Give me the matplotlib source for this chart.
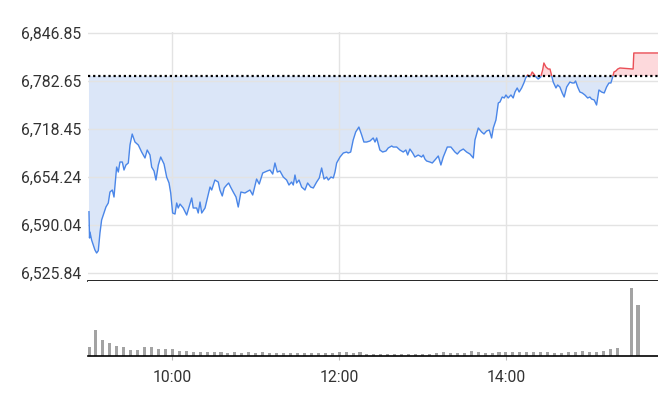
import numpy as np
import matplotlib.pyplot as plt
from matplotlib.patches import Rectangle
from matplotlib.ticker import FuncFormatter

# Intraday index level (minutes after 9:00, price)
times = [0.0, 0.4, 0.7, 1.9, 4.3, 5.5, 6.7, 7.9, 9.1, 10.3, 12.2, 13.9, 15.1, 16.8, 18.0,
         19.9, 21.1, 22.3, 24.0, 25.2, 26.6, 28.3, 29.5, 31.1, 33.1, 35.5, 37.9, 40.3, 41.9,
         43.9, 45.1, 46.8, 48.2, 49.9, 51.6, 54.0, 55.9, 57.6, 58.8, 60.2, 61.9, 63.1, 64.2,
         65.5, 67.8, 70.3, 73.9, 75.0, 77.5, 78.6, 79.9, 81.1, 83.5, 87.1, 88.3, 90.6, 93.0,
         94.2, 95.9, 97.3, 99.1, 100.5, 101.9, 103.8, 105.8, 107.4, 109.3, 112.2, 115.8, 117.8,
         120.6, 122.5, 125.0, 128.3, 130.2, 132.2, 133.8, 135.5, 137.4, 139.8, 142.2, 143.9,
         145.8, 147.0, 148.2, 149.4, 151.1, 153.0, 155.4, 157.3, 159.5, 161.4, 163.8, 165.7,
         167.4, 169.1, 171.0, 172.2, 174.1, 175.8, 177.0, 178.2, 180.6, 183.0, 185.4, 186.5,
         188.3, 190.1, 191.9, 194.2, 196.2, 197.8, 199.8, 202.2, 204.5, 205.8, 207.0, 209.3,
         211.3, 213.7, 215.3, 217.8, 218.9, 221.4, 223.7, 226.1, 228.0, 229.3, 230.9, 232.9,
         234.5, 236.9, 239.3, 240.5, 241.7, 242.9, 245.3, 247.0, 248.9, 251.3, 253.2, 254.9,
         257.8, 260.4, 263.3, 265.0, 266.9, 269.3, 271.7, 274.1, 276.5, 277.7, 280.1, 282.5,
         284.2, 286.1, 288.0, 289.7, 290.9, 292.8, 294.5, 295.7, 297.3, 298.8, 300.0, 301.6,
         303.6, 305.2, 306.5, 308.1, 309.5, 311.3, 312.9, 314.2, 315.6, 317.3, 318.9, 320.1,
         321.6, 323.2, 325.0, 326.4, 327.3, 328.8, 330.4, 331.7, 332.9, 334.0, 336.0, 337.2,
         338.8, 340.5, 341.9, 343.7, 346.0, 347.7, 349.1, 350.1, 351.6, 353.2, 354.9, 356.8,
         358.8, 360.4, 361.6, 363.5, 365.2, 366.9, 368.8, 370.7, 372.4, 374.1, 375.5, 376.8,
         377.7, 379.1, 380.4, 382.0, 391.5, 392.0]
prices = [6607.6, 6572.4, 6580.4, 6569.7, 6556.3, 6552.3, 6555.4, 6579.1, 6596.5, 6603.2,
          6613.9, 6619.3, 6634.0, 6636.7, 6627.3, 6667.5, 6660.8, 6674.2, 6674.2, 6663.5,
          6670.2, 6672.9, 6697.0, 6711.7, 6701.0, 6697.0, 6687.6, 6679.6, 6690.3, 6683.6,
          6667.5, 6662.2, 6650.1, 6670.2, 6680.9, 6671.5, 6654.1, 6646.1, 6632.7, 6605.9,
          6604.5, 6619.3, 6612.6, 6617.9, 6612.6, 6603.2, 6626.0, 6612.6, 6612.6, 6605.9,
          6620.6, 6605.9, 6612.6, 6640.7, 6636.7, 6650.1, 6647.4, 6636.7, 6628.7, 6639.4,
          6643.4, 6646.1, 6640.7, 6634.0, 6627.3, 6613.9, 6634.0, 6632.7, 6636.7, 6630.0,
          6651.4, 6644.7, 6659.5, 6662.2, 6663.5, 6658.1, 6672.9, 6660.8, 6662.2, 6654.1,
          6650.1, 6643.4, 6647.4, 6643.4, 6656.8, 6646.1, 6650.1, 6640.7, 6636.7, 6646.1,
          6640.7, 6639.4, 6647.4, 6652.8, 6666.2, 6651.4, 6654.1, 6650.1, 6654.1, 6652.8,
          6660.8, 6672.9, 6680.9, 6686.3, 6687.6, 6686.3, 6687.6, 6703.7, 6714.4, 6721.1,
          6710.4, 6701.0, 6701.0, 6702.4, 6706.4, 6701.0, 6706.4, 6690.3, 6687.6, 6689.0,
          6693.0, 6695.7, 6694.3, 6694.3, 6690.3, 6687.6, 6690.3, 6683.6, 6691.6, 6686.3,
          6680.9, 6683.6, 6680.9, 6683.6, 6678.2, 6675.6, 6674.2, 6672.9, 6676.9, 6682.3,
          6670.2, 6680.9, 6694.3, 6694.3, 6687.6, 6684.9, 6689.0, 6691.6, 6687.6, 6684.9,
          6679.6, 6703.7, 6719.8, 6714.4, 6711.7, 6715.8, 6717.1, 6706.4, 6719.8, 6730.5,
          6753.3, 6754.6, 6761.3, 6760.0, 6764.0, 6760.0, 6764.0, 6760.0, 6768.0, 6773.4,
          6768.0, 6773.4, 6780.1, 6786.8, 6790.8, 6788.1, 6794.8, 6792.1, 6788.1, 6785.4,
          6788.1, 6797.5, 6806.9, 6801.5, 6798.8, 6798.8, 6789.5, 6781.4, 6773.4, 6777.4,
          6774.7, 6766.7, 6761.3, 6774.7, 6781.4, 6780.1, 6780.1, 6782.8, 6774.7, 6768.0,
          6766.7, 6764.0, 6760.0, 6761.3, 6758.6, 6757.3, 6750.6, 6770.7, 6768.0, 6766.7,
          6774.7, 6780.1, 6780.1, 6788.1, 6794.8, 6796.2, 6798.8, 6800.2, 6798.8, 6820.3]
prev_close = 6789.5

# 5-minute volume bars (bar index -> volume); the 15:25 slot is empty
vol_index = list(range(0, 77)) + [78, 79]
volumes = [9.3, 26, 16, 13.3, 10, 9.3, 6, 6, 8.7, 9.3, 6.7, 7.3, 7.3, 5.3, 5.3, 4.3, 4.3,
           3.7, 4.3, 4.3, 3.3, 4.3, 3.3, 3.7, 3.3, 3.7, 3.3, 2.7, 3.3, 3.3, 3.3, 2.7, 3.3,
           2.7, 2.7, 3.3, 4.3, 4.3, 3.3, 4.3, 2, 2, 2, 2, 2, 2, 2, 2, 2, 2, 2.7, 4.3, 3.3,
           3.3, 3.3, 5.3, 4, 3.3, 3.3, 4.3, 4.3, 4.3, 4.3, 4.3, 4.3, 4.3, 4.3, 3.3, 3.3, 4.3,
           4.3, 5.3, 4.3, 4.3, 5.3, 7, 8.3, 67.7, 51]

yticks = [6525.84, 6590.04, 6654.24, 6718.45, 6782.65, 6846.85]
xticks = [60, 180, 300]

plt.rcParams['font.family'] = ['Roboto', 'DejaVu Sans']

fig = plt.figure(figsize=(6.58, 4.08), dpi=100)
ax = fig.add_axes([88 / 658, 1 - 281 / 408, 570 / 658, 249 / 408])
axv = fig.add_axes([88 / 658, 1 - 356 / 408, 570 / 658, 75 / 408])

x_end = 409.4
t = np.array(times + [x_end])
p = np.array(prices + [prices[-1]])

blue, blue_fill = '#4a86e8', '#dbe6f8'
red, red_fill = '#ea4f57', '#fdd9dc'

ax.fill_between(t, p, prev_close, where=p <= prev_close, interpolate=True,
                color=blue_fill, lw=0, zorder=1)
ax.fill_between(t, p, prev_close, where=p >= prev_close, interpolate=True,
                color=red_fill, lw=0, zorder=1)

low_line, = ax.plot(t, p, color=blue, lw=1, zorder=3)
high_line, = ax.plot(t, p, color=red, lw=1, zorder=3)
low_line.set_clip_path(Rectangle((-10, 6000), 500, prev_close - 6000, transform=ax.transData))
high_line.set_clip_path(Rectangle((-10, prev_close), 500, 1000, transform=ax.transData))

ax.axhline(prev_close, color='black', lw=1.6, ls=(0, (1, 1.3)), zorder=4)

ax.set_xlim(-0.7, x_end)
ax.set_ylim(6514.8, 6848.4)
ax.set_yticks(yticks)
ax.yaxis.set_major_formatter(FuncFormatter(lambda v, pos: f'{v:,.2f}'))
ax.set_xticks(xticks)
ax.tick_params(axis='x', length=0, labelbottom=False)
ax.tick_params(axis='y', length=0, labelsize=11.3, labelcolor='#333333', pad=5)
ax.grid(True, color='#e3e3e3', lw=1, zorder=0)
for side in ['top', 'left', 'right']:
    ax.spines[side].set_visible(False)
ax.spines['bottom'].set_color('black')
ax.spines['bottom'].set_linewidth(1.2)

axv.bar([5 * i for i in vol_index], volumes, width=2.2, color='#a3a3a3', zorder=2)
axv.set_xlim(-0.7, x_end)
axv.set_ylim(0, 75)
axv.set_yticks([])
axv.set_xticks(xticks)
axv.xaxis.set_major_formatter(FuncFormatter(lambda m, pos: f'{9 + int(m) // 60}:{int(m) % 60:02d}'))
axv.tick_params(axis='x', length=3, color='#bbbbbb', labelsize=11.3, labelcolor='#333333', pad=7)
for side in ['top', 'left', 'right']:
    axv.spines[side].set_visible(False)
axv.spines['bottom'].set_color('black')
axv.spines['bottom'].set_linewidth(1.2)

fig.savefig('out.png', dpi=100)
